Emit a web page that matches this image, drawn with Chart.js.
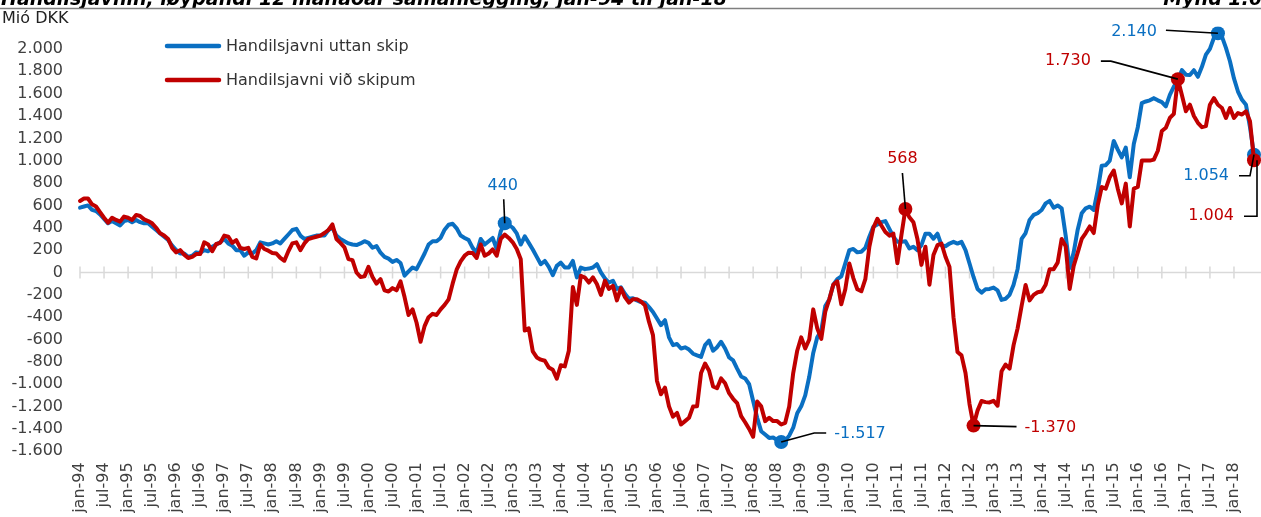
<!DOCTYPE html>
<html>
<head>
<meta charset="utf-8">
<script src="https://cdn.jsdelivr.net/npm/chart.js@4.4.1/dist/chart.umd.min.js"></script>
<style>
  html, body { margin: 0; padding: 0; overflow: hidden; background: #fff; }
  #wrap { position: absolute; left: 0; top: 0; width: 1261px; height: 540px; }
</style>
</head>
<body>
<div id="wrap"><canvas id="myChart" width="1261" height="540"></canvas></div>
<script>
'use strict'

// months jan-94 .. jun-18
let monthNames = ['jan', 'feb', 'mar', 'apr', 'mai', 'jun', 'jul', 'aug', 'sep', 'okt', 'nov', 'des'];
let firstYear = 1994;
let lastYear = 2018;
let lastMonth = 5;

let seriesNames = ['Handilsjavni uttan skip', 'Handilsjavni við skipum'];

// Handilsjavni uttan skip, mió DKK (one row per year)
let uttanSkip = [
  580, 590, 600, 560, 550, 520, 480, 440, 460, 440, 420, 460,
  470, 450, 470, 450, 440, 440, 410, 380, 350, 320, 290, 240,
  200, 170, 170, 140, 150, 180, 175, 200, 190, 230, 250, 270,
  300, 260, 240, 200, 200, 150, 180, 170, 200, 270, 260, 250,
  260, 280, 260, 300, 340, 380, 390, 330, 300, 310, 320, 330,
  330, 330, 380, 400, 330, 300, 280, 260, 250, 245, 260, 280,
  265, 221, 236, 177, 140, 124, 95, 112, 85, -29, 10, 44,
  30, 100, 170, 250, 280, 280, 309, 383, 427, 436, 395, 330,
  309, 290, 220, 177, 300, 250, 280, 309, 210, 368, 440, 427,
  400, 350, 250, 324, 265, 206, 140, 74, 103, 50, -24, 59,
  88, 44, 44, 103, -44, 44, 30, 35, 44, 74, 0, -53,
  -90, -74, -147, -133, -191, -235, -230, -250, -265, -270, -309, -353,
  -412, -471, -427, -580, -650, -640, -680, -670, -690, -727, -742, -756,
  -650, -610, -700, -668, -620, -680, -760, -786, -860, -930, -948, -1000,
  -1150, -1300, -1420, -1450, -1480, -1477, -1500, -1517, -1507, -1460, -1389, -1260,
  -1198, -1100, -933, -720, -580, -521, -300, -241, -110, -60, -35, 82,
  200, 210, 180, 185, 220, 320, 410, 430, 450, 460, 390, 320,
  274, 274, 280, 215, 230, 200, 244, 347, 347, 303, 347, 244,
  235, 259, 274, 259, 274, 200, 80, -40, -147, -180, -150, -147,
  -135, -160, -245, -235, -200, -110, 30, 300, 353, 470, 515, 530,
  559, 618, 640, 580, 600, 574, 330, 40, 180, 383, 530, 574,
  589, 560, 736, 956, 960, 1000, 1177, 1100, 1030, 1118, 853, 1150,
  1300, 1516, 1530, 1540, 1560, 1540, 1524, 1486, 1589, 1663, 1722, 1810,
  1770, 1766, 1810, 1751, 1840, 1950, 2001, 2100, 2140, 2110, 2010, 1890,
  1736, 1619, 1545, 1500, 1300, 1054
];

// Handilsjavni við skipum, mió DKK
let vidSkipum = [
  640, 662, 662, 610, 590, 540, 490, 445, 490, 470, 455, 500,
  490, 470, 515, 505, 475, 460, 440, 400, 350, 330, 300, 220,
  180, 200, 160, 130, 140, 165, 165, 270, 250, 190, 255, 265,
  330, 320, 265, 290, 220, 210, 220, 140, 125, 250, 210, 195,
  175, 170, 130, 105, 190, 260, 270, 200, 260, 300, 310, 320,
  330, 353, 380, 430, 300, 265, 225, 120, 110, 0, -40, -35,
  50, -40, -100, -60, -160, -170, -140, -160, -80, -220, -380, -330,
  -450, -620, -480, -400, -370, -380, -330, -290, -240, -100, 25, 100,
  150, 177, 175, 130, 250, 150, 170, 206, 150, 300, 339, 309,
  270, 210, 118, -520, -500, -706, -760, -780, -790, -850, -870, -950,
  -830, -840, -700, -130, -290, -30, -45, -90, -44, -103, -200, -74,
  -147, -120, -250, -140, -220, -270, -240, -240, -260, -294, -440, -560,
  -971, -1090, -1030, -1198, -1290, -1257, -1360, -1330, -1300, -1200, -1198, -900,
  -815, -880, -1020, -1036, -948, -992, -1080, -1130, -1168, -1286, -1340, -1400,
  -1470, -1154, -1198, -1330, -1300, -1330, -1330, -1360, -1345, -1200, -900, -700,
  -580, -680, -600, -330, -500, -594, -350, -240, -110, -79, -285, -150,
  80, -50, -150, -168, -60, 230, 400, 480, 421, 362, 330, 347,
  82, 333, 568, 494, 450, 300, 68, 230, -109, 156, 244, 259,
  141, 50, -400, -712, -742, -900, -1177, -1370, -1236, -1150, -1160, -1163,
  -1148, -1192, -883, -824, -860, -650, -500, -300, -112, -250, -200, -177,
  -171, -110, 29, 30, 88, 300, 235, -147, 59, 177, 300, 353,
  412, 353, 600, 765, 750, 853, 912, 750, 618, 795, 412, 750,
  765, 1001, 1001, 1001, 1010, 1089, 1266, 1295, 1383, 1420, 1730, 1589,
  1442, 1501, 1400, 1339, 1300, 1310, 1501, 1560, 1501, 1472, 1383, 1472,
  1383, 1427, 1413, 1442, 1354, 1004
];

// marked points (month index)
let uttanMarks = [106, 175, 284, 293];
let vidMarks = [206, 223, 274, 293];

let yMin = -1600;
let yMax = 2200;
let yStep = 200;

let blue = '#0a6fc2';
let red = '#c00000';

let categories = [];
for (let y = firstYear; y <= lastYear; y++) {
    for (let m = 0; m < 12; m++) {
        if (y === lastYear && m > lastMonth) break;
        categories.push(monthNames[m] + '-' + String(y).slice(2));
    }
}

function fmt(v) {
    let s = String(Math.abs(v)).replace(/\B(?=(\d{3})+(?!\d))/g, '.');
    return (v < 0 ? '-' : '') + s;
}

let font = 'DejaVu Sans';

// label offsets from the marked point: [dataset, index, text dx, text dy, align, leader line]
let notes = [
    [0, 106, -2, -37, 'center', [[-1, -24], [0, 0]]],
    [0, 175, 53, -8, 'left', [[0, 0], [33, -9], [45, -9]]],
    [1, 206, -3, -50, 'center', [[-3, -36], [0, 0]]],
    [1, 223, 51, 2, 'left', [[0, 0], [43, 1]]],
    [1, 274, -87, -18, 'right', [[-77, -18], [-67, -18], [0, 0]]],
    [0, 284, -61, -1, 'right', [[-52, -3], [0, 0]]],
    [0, 293, -25, 21, 'right', [[-15, 21], [-4, 21], [0, 0]]],
    [1, 293, -20, 56, 'right', [[-10, 56], [3, 56], [3, 0]]]
];

let decor = {
    id: 'decor',
    beforeDraw(chart) {
        let ctx = chart.ctx;
        ctx.save();
        ctx.fillStyle = '#fff';
        ctx.fillRect(0, 0, chart.width, chart.height);
        // title, cut by the top edge
        ctx.fillStyle = '#000';
        ctx.font = 'italic bold 19px "' + font + '"';
        ctx.textBaseline = 'alphabetic';
        ctx.textAlign = 'left';
        ctx.fillText('Handilsjavnin, løypandi 12 mánaðar samanlegging, jan-94 til jan-18', 1, 5);
        ctx.textAlign = 'right';
        ctx.fillText('Mynd 1.6', 1262, 5);
        ctx.strokeStyle = '#7f7f7f';
        ctx.lineWidth = 1.5;
        ctx.beginPath();
        ctx.moveTo(0, 8.5);
        ctx.lineTo(chart.width, 8.5);
        ctx.stroke();
        ctx.fillStyle = '#222';
        ctx.font = '16px "' + font + '"';
        ctx.textAlign = 'left';
        ctx.fillText('Mió DKK', 2, 23);
        ctx.restore();
    },
    beforeDatasetsDraw(chart) {
        let ctx = chart.ctx;
        let x = chart.scales.x;
        let y0 = chart.scales.y.getPixelForValue(0);
        ctx.save();
        ctx.strokeStyle = '#d9d9d9';
        ctx.lineWidth = 1.5;
        ctx.beginPath();
        ctx.moveTo(chart.chartArea.left, y0);
        ctx.lineTo(chart.width, y0);
        for (let i = 0; i < categories.length; i += 6) {
            let px = x.getPixelForValue(i);
            ctx.moveTo(px, y0 - 6);
            ctx.lineTo(px, y0 + 6);
        }
        ctx.stroke();
        ctx.restore();
    },
    afterDatasetsDraw(chart) {
        let ctx = chart.ctx;
        ctx.save();
        // legend
        ctx.font = '16px "' + font + '"';
        ctx.textBaseline = 'middle';
        ctx.lineCap = 'round';
        let rows = [46, 80];
        chart.data.datasets.forEach(function (ds, k) {
            ctx.strokeStyle = ds.borderColor;
            ctx.lineWidth = 4.5;
            ctx.beginPath();
            ctx.moveTo(167, rows[k]);
            ctx.lineTo(219, rows[k]);
            ctx.stroke();
            ctx.fillStyle = '#333';
            ctx.textAlign = 'left';
            ctx.fillText(ds.label, 226, rows[k] + 1);
        });
        // value labels with leader lines
        ctx.lineCap = 'butt';
        notes.forEach(function (n) {
            let ds = chart.data.datasets[n[0]];
            let pt = chart.getDatasetMeta(n[0]).data[n[1]];
            let path = n[5];
            ctx.strokeStyle = '#000';
            ctx.lineWidth = 1.6;
            ctx.beginPath();
            ctx.moveTo(pt.x + path[0][0], pt.y + path[0][1]);
            for (let j = 1; j < path.length; j++) {
                ctx.lineTo(pt.x + path[j][0], pt.y + path[j][1]);
            }
            ctx.stroke();
            ctx.fillStyle = ds.borderColor;
            ctx.textAlign = n[4];
            ctx.fillText(fmt(ds.data[n[1]]), pt.x + n[2], pt.y + n[3]);
        });
        ctx.restore();
    }
};

function markRadius(marks) {
    return function (c) {
        return marks.includes(c.dataIndex) ? 7 : 0;
    };
}

let ctx = document.getElementById('myChart').getContext('2d');
let myChart = new Chart(ctx, {
    type: 'line',
    data: {
        labels: categories,
        datasets: [{
            label: seriesNames[0],
            data: uttanSkip,
            borderColor: blue,
            backgroundColor: blue,
            borderWidth: 4,
            pointRadius: markRadius(uttanMarks),
            pointBorderWidth: 0,
            pointHoverRadius: 0,
            tension: 0,
            borderJoinStyle: 'round',
            borderCapStyle: 'round',
            order: 2
        }, {
            label: seriesNames[1],
            data: vidSkipum,
            borderColor: red,
            backgroundColor: red,
            borderWidth: 4,
            pointRadius: markRadius(vidMarks),
            pointBorderWidth: 0,
            pointHoverRadius: 0,
            tension: 0,
            borderJoinStyle: 'round',
            borderCapStyle: 'round',
            order: 1
        }]
    },
    options: {
        responsive: false,
        animation: false,
        events: [],
        layout: { padding: { top: 21.4, right: 4, left: 0, bottom: 0 } },
        plugins: {
            legend: { display: false },
            tooltip: { enabled: false }
        },
        scales: {
            x: {
                type: 'category',
                offset: false,
                grid: { display: false, drawTicks: false },
                border: { display: false },
                ticks: {
                    autoSkip: false,
                    maxRotation: 90,
                    minRotation: 90,
                    padding: 11,
                    color: '#404040',
                    font: { family: font, size: 16 },
                    callback: function (v, i) {
                        return i % 6 === 0 ? categories[i] : '';
                    }
                },
                afterFit: function (s) {
                    s.height = 88.7;
                    s.paddingLeft = 0;
                    s.paddingRight = 0;
                }
            },
            y: {
                min: yMin,
                max: yMax,
                grid: { display: false, drawTicks: false },
                border: { display: false },
                ticks: {
                    stepSize: yStep,
                    padding: 17,
                    color: '#404040',
                    font: { family: font, size: 16 },
                    callback: function (v) {
                        return v === yMax ? '' : fmt(v);
                    }
                },
                afterFit: function (s) {
                    s.width = 80;
                }
            }
        }
    },
    plugins: [decor]
});
</script>
</body>
</html>
